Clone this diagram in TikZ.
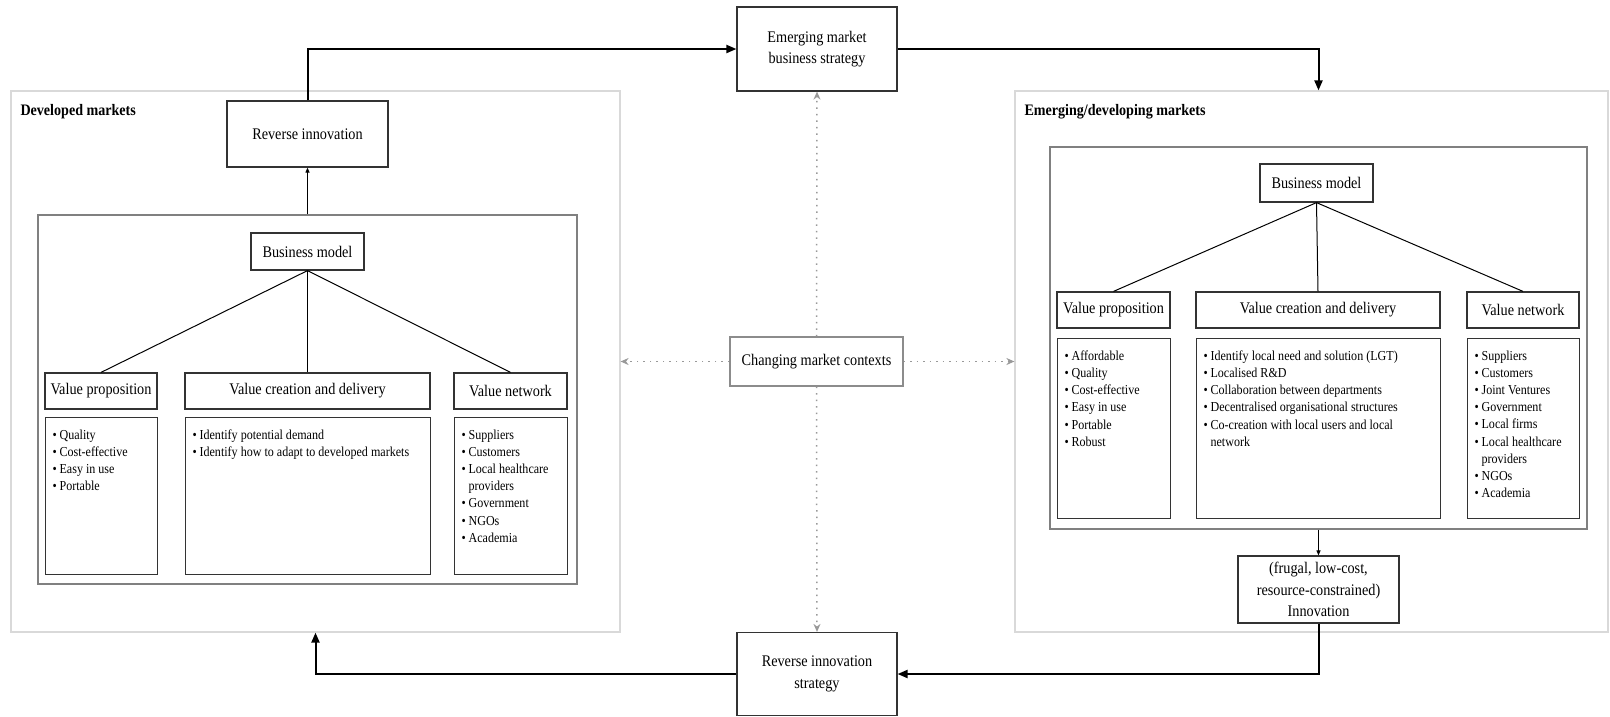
\documentclass[tikz,border=0pt]{standalone}
\usepackage{fontspec}
\setmainfont{Liberation Serif}[FakeStretch=0.88]
\usetikzlibrary{arrows.meta}
\newcommand{\bitem}[1]{\par\hangindent=7pt\hangafter=1\makebox[7pt][l]{\textbullet}#1}
\newcommand{\blist}[3]{\parbox[t][#2][t]{#1}{\fontsize{13.7}{17.2}\selectfont\raggedright#3}}
\begin{document}
\begin{tikzpicture}[x=1pt, y=-1pt,
  every node/.style={font=\fontsize{16.2}{21.5}\selectfont},
  box/.style={draw=black!80, line width=1.2pt, fill=white, align=center, inner sep=0pt},
  list/.style={box, anchor=north west, inner xsep=7pt, inner ysep=12pt},
  region/.style={draw=black!15, line width=1.2pt, inner sep=0pt},
  panel/.style={draw=black!50, line width=1.2pt, inner sep=0pt},
  title/.style={anchor=west, font=\fontsize{16}{18}\selectfont\bfseries},
  flow/.style={line width=2pt, -{Triangle[length=10pt,width=8pt]}},
  link/.style={line width=1pt, -{Triangle[length=5pt,width=4pt]}},
  tree/.style={line width=1pt},
  ctx/.style={draw=black!40, line width=1.5pt, dash pattern=on 1.5pt off 5pt, -{Stealth[length=8pt,width=7pt]}}]
\useasboundingbox (0,0) rectangle (1610,716);
\node[region, minimum width=609, minimum height=541] (dev) at (315.5,361.5) {};
\node[region, minimum width=593, minimum height=541] (emg) at (1311.5,361.5) {};
\node[title] (devlabel) at (17,112) {Developed markets};
\node[title] (emglabel) at (1021,112) {Emerging/developing markets};
\node[panel, minimum width=539, minimum height=369] (inL) at (307.5,399.5) {};
\node[panel, minimum width=537, minimum height=382] (inR) at (1318.5,338) {};
\node[box, minimum width=160, minimum height=84] (ems) at (817,49) {Emerging market\\business strategy};
\node[box, minimum width=160, minimum height=83] (ris) at (817,674) {Reverse innovation\\strategy};
\node[box, draw=black!45, minimum width=173, minimum height=49] (cmc) at (816.5,361.5) {Changing market contexts};
\node[box, minimum width=161, minimum height=66] (ri) at (307.5,134) {Reverse innovation};
\node[box, minimum width=161, minimum height=67] (innov) at (1318.5,589.5) {(frugal, low-cost,\\resource-constrained)\\Innovation};
\node[box, minimum width=113, minimum height=37] (bmL) at (307.5,251.5) {Business model};
\node[box, minimum width=113, minimum height=38] (bmR) at (1316.5,183) {Business model};
\node[box, minimum width=112, minimum height=36] (vpL) at (101,391) {Value proposition};
\node[box, minimum width=245, minimum height=36] (vcL) at (307.5,391) {Value creation and delivery};
\node[box, minimum width=113, minimum height=36] (vnL) at (510.5,391) {Value network};
\node[box, minimum width=113, minimum height=36] (vpR) at (1113.5,310) {Value proposition};
\node[box, minimum width=244, minimum height=36] (vcR) at (1318,310) {Value creation and delivery};
\node[box, minimum width=112, minimum height=36] (vnR) at (1523,310) {Value network};
\node[list] (vpLb) at (45,417) {\blist{98pt}{133pt}{\bitem{Quality}\bitem{Cost-effective}\bitem{Easy in use}\bitem{Portable}}};
\node[list] (vcLb) at (185,417) {\blist{231pt}{133pt}{\bitem{Identify potential demand}\bitem{Identify how to adapt to developed markets}}};
\node[list] (vnLb) at (454,417) {\blist{99pt}{133pt}{\bitem{Suppliers}\bitem{Customers}\bitem{Local healthcare\newline providers}\bitem{Government}\bitem{NGOs}\bitem{Academia}}};
\node[list] (vpRb) at (1057,338) {\blist{99pt}{156pt}{\bitem{Affordable}\bitem{Quality}\bitem{Cost-effective}\bitem{Easy in use}\bitem{Portable}\bitem{Robust}}};
\node[list] (vcRb) at (1196,338) {\blist{230pt}{156pt}{\bitem{Identify local need and solution (LGT)}\bitem{Localised R\&D}\bitem{Collaboration between departments}\bitem{Decentralised organisational structures}\bitem{Co-creation with local users and local\newline network}}};
\node[list] (vnRb) at (1467,338) {\blist{98pt}{156pt}{\bitem{Suppliers}\bitem{Customers}\bitem{Joint Ventures}\bitem{Government}\bitem{Local firms}\bitem{Local healthcare\newline providers}\bitem{NGOs}\bitem{Academia}}};
\draw[tree] (bmL.south) -- (vpL.north);
\draw[tree] (bmL.south) -- (vcL.north);
\draw[tree] (bmL.south) -- (vnL.north);
\draw[tree] (bmR.south) -- (vpR.north);
\draw[tree] (bmR.south) -- (vcR.north);
\draw[tree] (bmR.south) -- (vnR.north);
\draw[link] (inL.north) -- (ri.south);
\draw[link] (inR.south) -- (innov.north);
\draw[flow] (ri.north) |- (ems.west);
\draw[flow] (ems.east) -| (inR.north |- emg.north);
\draw[flow] (innov.south) |- (ris.east);
\draw[flow] (ris.west) -| (dev.south);
\draw[ctx] (cmc.north) -- (ems.south);
\draw[ctx] (cmc.south) -- (ris.north);
\draw[ctx] (cmc.west) -- (dev.east);
\draw[ctx] (cmc.east) -- (emg.west);
\end{tikzpicture}
\end{document}
